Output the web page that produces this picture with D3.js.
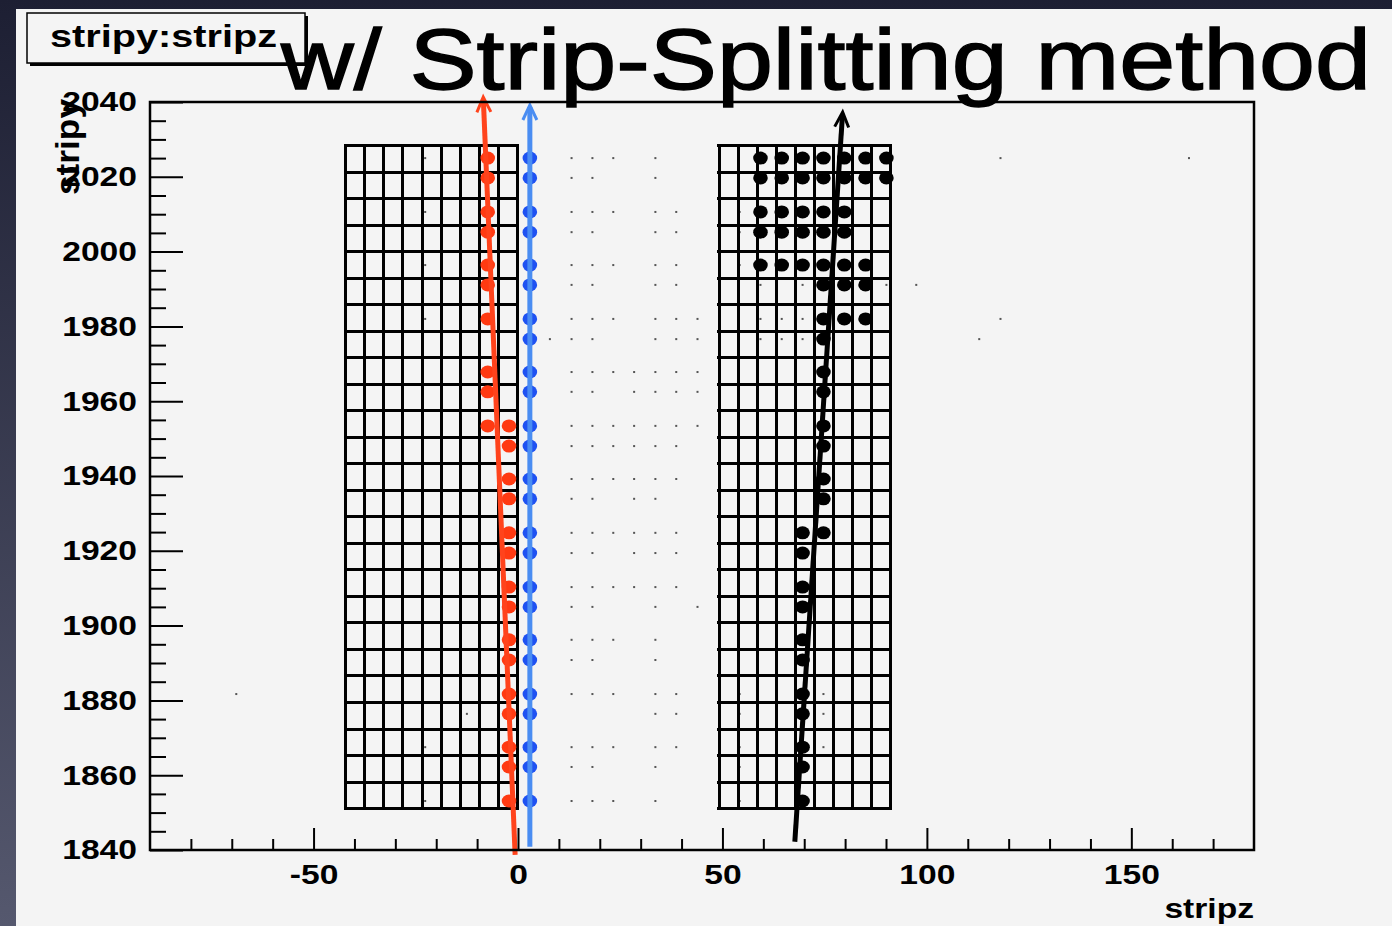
<!DOCTYPE html>
<html>
<head>
<meta charset="utf-8">
<script src="https://cdn.jsdelivr.net/npm/d3@7"></script>
<style>
  html, body { margin: 0; padding: 0; background: #23253a; }
  svg { display: block; }
  text { font-family: "Liberation Sans", Arial, Helvetica, sans-serif; }
</style>
</head>
<body>
<svg width="1392" height="926"></svg>
<script>
// ---- data ----
const xDomain = [-90, 180];
const yDomain = [1840, 2040];
const xMajorTicks = [-50, 0, 50, 100, 150];
const yMajorTicks = [1840, 1860, 1880, 1900, 1920, 1940, 1960, 1980, 2000, 2020, 2040];

// hit rows (stripy) shared by the three tracks
const rowY = [2025.0, 2019.7, 2010.6, 2005.2, 1996.4, 1991.1, 1982.0, 1976.6, 1967.8, 1962.5,
              1953.4, 1948.0, 1939.2, 1933.9, 1924.8, 1919.4, 1910.3, 1905.0, 1896.2, 1890.8,
              1881.7, 1876.4, 1867.5, 1862.2, 1853.1];

// red hits [stripz, stripy]
const redHits = [
  [-7.4, 2025.0], [-7.4, 2019.7], [-7.4, 2010.6], [-7.4, 2005.2], [-7.4, 1996.4], [-7.4, 1991.1],
  [-7.4, 1982.0], [-7.4, 1967.8], [-7.4, 1962.5], [-7.4, 1953.4], [-2.2, 1953.4], [-2.2, 1948.0],
  [-2.2, 1939.2], [-2.2, 1933.9], [-2.2, 1924.8], [-2.2, 1919.4], [-2.2, 1910.3], [-2.2, 1905.0],
  [-2.2, 1896.2], [-2.2, 1890.8], [-2.2, 1881.7], [-2.2, 1876.4], [-2.2, 1867.5], [-2.2, 1862.2],
  [-2.2, 1853.1]
];
// blue hits: one strip column, every row
const blueZ = 2.9;

// black hits
const blackHits = [
  [59.3, 2025.0], [64.5, 2025.0], [69.6, 2025.0], [74.7, 2025.0], [79.8, 2025.0], [85.0, 2025.0], [90.1, 2025.0],
  [59.3, 2019.7], [64.5, 2019.7], [69.6, 2019.7], [74.7, 2019.7], [79.8, 2019.7], [85.0, 2019.7], [90.1, 2019.7],
  [59.3, 2010.6], [64.5, 2010.6], [69.6, 2010.6], [74.7, 2010.6], [79.8, 2010.6],
  [59.3, 2005.2], [64.5, 2005.2], [69.6, 2005.2], [74.7, 2005.2], [79.8, 2005.2],
  [59.3, 1996.4], [64.5, 1996.4], [69.6, 1996.4], [74.7, 1996.4], [79.8, 1996.4], [85.0, 1996.4],
  [74.7, 1991.1], [79.8, 1991.1], [85.0, 1991.1],
  [74.7, 1982.0], [79.8, 1982.0], [85.0, 1982.0],
  [74.7, 1976.6], [74.7, 1967.8], [74.7, 1962.5], [74.7, 1953.4], [74.7, 1948.0], [74.7, 1939.2],
  [74.7, 1933.9], [69.6, 1924.8], [74.7, 1924.8], [69.6, 1919.4], [69.6, 1910.3], [69.6, 1905.0],
  [69.6, 1896.2], [69.6, 1890.8], [69.6, 1881.7], [69.6, 1876.4], [69.6, 1867.5], [69.6, 1862.2],
  [69.6, 1853.1]
];

// faint single-strip entries
const smallHits = [
  [13.1, 2025.0], [18.2, 2025.0], [23.3, 2025.0], [33.6, 2025.0],
  [13.1, 2019.7], [18.2, 2019.7], [33.6, 2019.7],
  [13.1, 2010.6], [18.2, 2010.6], [23.3, 2010.6], [33.6, 2010.6], [38.7, 2010.6],
  [13.1, 2005.2], [18.2, 2005.2], [33.6, 2005.2], [38.7, 2005.2],
  [13.1, 1996.4], [18.2, 1996.4], [23.3, 1996.4], [33.6, 1996.4], [38.7, 1996.4],
  [13.1, 1991.1], [18.2, 1991.1], [33.6, 1991.1], [38.7, 1991.1],
  [13.1, 1982.0], [18.2, 1982.0], [23.3, 1982.0], [33.6, 1982.0], [38.7, 1982.0], [43.9, 1982.0],
  [7.8, 1976.6], [13.1, 1976.6], [18.2, 1976.6], [33.6, 1976.6], [38.7, 1976.6], [43.9, 1976.6],
  [13.1, 1967.8], [18.2, 1967.8], [23.3, 1967.8], [28.4, 1967.8], [33.6, 1967.8], [38.7, 1967.8], [43.9, 1967.8],
  [13.1, 1962.5], [18.2, 1962.5], [28.4, 1962.5], [33.6, 1962.5], [38.7, 1962.5], [43.9, 1962.5],
  [13.1, 1953.4], [18.2, 1953.4], [23.3, 1953.4], [28.4, 1953.4], [33.6, 1953.4], [38.7, 1953.4], [43.9, 1953.4],
  [13.1, 1948.0], [18.2, 1948.0], [23.3, 1948.0], [28.4, 1948.0], [33.6, 1948.0], [38.7, 1948.0],
  [13.1, 1939.2], [18.2, 1939.2], [23.3, 1939.2], [28.4, 1939.2], [33.6, 1939.2], [38.7, 1939.2],
  [13.1, 1933.9], [18.2, 1933.9], [28.4, 1933.9], [33.6, 1933.9],
  [13.1, 1924.8], [18.2, 1924.8], [23.3, 1924.8], [28.4, 1924.8], [33.6, 1924.8], [38.7, 1924.8],
  [13.1, 1919.4], [18.2, 1919.4], [28.4, 1919.4], [33.6, 1919.4], [38.7, 1919.4],
  [13.1, 1910.3], [18.2, 1910.3], [23.3, 1910.3], [28.4, 1910.3], [33.6, 1910.3], [38.7, 1910.3],
  [13.1, 1905.0], [18.2, 1905.0], [33.6, 1905.0], [43.9, 1905.0],
  [13.1, 1896.2], [18.2, 1896.2], [23.3, 1896.2], [33.6, 1896.2],
  [13.1, 1890.8], [18.2, 1890.8], [33.6, 1890.8],
  [13.1, 1881.7], [18.2, 1881.7], [23.3, 1881.7], [33.6, 1881.7], [38.7, 1881.7],
  [33.6, 1876.4], [38.7, 1876.4],
  [13.1, 1867.5], [18.2, 1867.5], [23.3, 1867.5], [33.6, 1867.5], [38.7, 1867.5],
  [13.1, 1862.2], [18.2, 1862.2], [33.6, 1862.2],
  [13.1, 1853.1], [18.2, 1853.1], [23.3, 1853.1], [33.6, 1853.1],
  [-22.7, 2025.0], [-22.7, 2010.6], [-22.7, 1996.4], [-22.7, 1982.0],
  [-12.5, 1876.4], [-22.7, 1867.5], [-22.7, 1853.1], [-68.9, 1881.7],
  [54.2, 2010.6], [54.2, 2005.2], [54.2, 1996.4],
  [59.3, 1991.1], [69.6, 1991.1], [90.1, 1991.1], [97.4, 1991.1],
  [59.3, 1982.0], [64.5, 1982.0], [69.6, 1982.0],
  [59.3, 1976.6], [64.5, 1976.6], [69.6, 1976.6],
  [54.2, 1881.7], [74.7, 1881.7], [54.2, 1876.4], [74.7, 1876.4],
  [54.2, 1867.5], [74.7, 1867.5], [54.2, 1862.2], [54.2, 1853.1],
  [118.0, 2025.0], [164.1, 2025.0], [118.0, 1982.0], [112.8, 1976.6]
];

// fitted tracks [stripz, stripy] from bottom to arrow tip
const redTrack = [[-0.7, 1838.7], [-8.5, 2041.3]];
const blueTrack = [[2.9, 1840.9], [2.9, 2039.2]];
const blackTrack = [[67.7, 1842.2], [79.4, 2037.3]];

// detector strip grids
const gridBoxes = [[-42.3, -0.2], [49.1, 90.9]];
const gridY = [1851.2, 2028.5];
const gridCols = 9;
const gridRows = 25;

// ---- drawing ----
const svg = d3.select("svg");
const width = +svg.attr("width");
const height = +svg.attr("height");

const margin = { left: 150, right: 138, top: 102, bottom: 76 };
const x = d3.scaleLinear().domain(xDomain).range([margin.left, width - margin.right]);
const y = d3.scaleLinear().domain(yDomain).range([height - margin.bottom, margin.top]);

// text in the source is drawn ~1.2x wider than normal
const stretch = (sel, k) => sel.each(function () {
  const w = this.getComputedTextLength();
  d3.select(this).attr("textLength", w * k).attr("lengthAdjust", "spacingAndGlyphs");
});

// slide background + pad
const defs = svg.append("defs");
const bg = defs.append("linearGradient").attr("id", "bg")
  .attr("x1", 0).attr("y1", 0).attr("x2", 0).attr("y2", 1);
bg.append("stop").attr("offset", "0%").attr("stop-color", "#1d1f33");
bg.append("stop").attr("offset", "100%").attr("stop-color", "#55586e");
svg.append("rect").attr("width", width).attr("height", height).attr("fill", "url(#bg)");
svg.append("rect").attr("x", 16).attr("y", 9).attr("width", width - 16).attr("height", height - 9)
  .attr("fill", "#f4f4f4");

const plot = svg.append("g");

// faint hits
plot.append("g").selectAll("rect").data(smallHits).enter().append("rect")
  .attr("x", d => x(d[0]) - 1).attr("y", d => y(d[1]) - 1)
  .attr("width", 2).attr("height", 2).attr("fill", "#555");

// strip grids
gridBoxes.forEach(b => {
  const g = plot.append("g").attr("stroke", "#000").attr("stroke-width", 3).attr("fill", "none")
    .attr("shape-rendering", "crispEdges");
  const zs = d3.range(gridCols + 1).map(i => b[0] + (b[1] - b[0]) * i / gridCols);
  const ys = d3.range(gridRows + 1).map(i => gridY[0] + (gridY[1] - gridY[0]) * i / gridRows);
  g.selectAll("line.v").data(zs).enter().append("line").attr("class", "v")
    .attr("x1", d => Math.round(x(d))).attr("x2", d => Math.round(x(d)))
    .attr("y1", y(gridY[0]) + 1.5).attr("y2", y(gridY[1]) - 1.5);
  g.selectAll("line.h").data(ys).enter().append("line").attr("class", "h")
    .attr("y1", d => Math.round(y(d))).attr("y2", d => Math.round(y(d)))
    .attr("x1", x(b[0]) - 1.5).attr("x2", x(b[1]) + 1.5);
});

// hits
const dot = (data, color) => plot.append("g").selectAll("ellipse").data(data).enter().append("ellipse")
  .attr("cx", d => x(d[0])).attr("cy", d => y(d[1]))
  .attr("rx", 7.3).attr("ry", 6.5).attr("fill", color);

dot(redHits, "#ff3a12");
dot(rowY.map(v => [blueZ, v]), "#1f52f2");
dot(blackHits, "#000");

// tracks with arrow heads
const track = (pts, color) => {
  const p0 = [x(pts[0][0]), y(pts[0][1])];
  const p1 = [x(pts[1][0]), y(pts[1][1])];
  const dx = p1[0] - p0[0], dy = p1[1] - p0[1];
  const len = Math.hypot(dx, dy);
  const ux = dx / len, uy = dy / len;
  const px = -uy, py = ux;
  const bx = p1[0] - 15 * ux, by = p1[1] - 15 * uy;
  plot.append("line")
    .attr("x1", p0[0]).attr("y1", p0[1]).attr("x2", p1[0] - 2 * ux).attr("y2", p1[1] - 2 * uy)
    .attr("stroke", color).attr("stroke-width", 5);
  plot.append("path")
    .attr("d", `M${bx + 7 * px},${by + 7 * py}L${p1[0]},${p1[1]}L${bx - 7 * px},${by - 7 * py}`)
    .attr("fill", "none").attr("stroke", color).attr("stroke-width", 3)
    .attr("stroke-linejoin", "miter");
};
track(redTrack, "#ff431c");
track(blueTrack, "#4a8df2");
track(blackTrack, "#000");

// axes
const fmt = d => String(d);
const xAxis = svg.append("g").attr("transform", `translate(0,${y(yDomain[0])})`)
  .call(d3.axisBottom(x).tickValues(xMajorTicks).tickSize(-22).tickPadding(14).tickFormat(fmt));
svg.append("g").attr("transform", `translate(0,${y(yDomain[0])})`)
  .call(d3.axisBottom(x).tickValues(d3.range(-80, 180, 10).filter(v => v % 50 !== 0)).tickSize(-11).tickFormat(""));
const yAxis = svg.append("g").attr("transform", `translate(${x(xDomain[0])},0)`)
  .call(d3.axisLeft(y).tickValues(yMajorTicks).tickSize(-33).tickPadding(13).tickFormat(fmt));
svg.append("g").attr("transform", `translate(${x(xDomain[0])},0)`)
  .call(d3.axisLeft(y).tickValues(d3.range(1845, 2040, 5).filter(v => v % 20 !== 0)).tickSize(-16).tickFormat(""));

svg.selectAll(".domain").remove();
svg.selectAll(".tick line").attr("stroke", "#000").attr("stroke-width", 2);
[xAxis, yAxis].forEach(a => a.selectAll("text")
  .attr("font-size", 28).attr("font-weight", "bold").attr("fill", "#000")
  .style("font-family", "'Liberation Sans', Arial, sans-serif"));
stretch(xAxis.selectAll("text"), 1.2);
stretch(yAxis.selectAll("text"), 1.2);

// frame
svg.append("rect")
  .attr("x", x(xDomain[0])).attr("y", y(yDomain[1]))
  .attr("width", x(xDomain[1]) - x(xDomain[0])).attr("height", y(yDomain[0]) - y(yDomain[1]))
  .attr("fill", "none").attr("stroke", "#000").attr("stroke-width", 2.5);

// axis titles
const xt = svg.append("text").attr("x", x(xDomain[1])).attr("y", 918)
  .attr("text-anchor", "end").attr("font-size", 28).attr("font-weight", "bold").text("stripz");
stretch(xt, 1.2);
svg.append("text").attr("transform", `translate(79,${y(yDomain[1]) - 3}) rotate(-90)`)
  .attr("text-anchor", "end").attr("font-size", 34).attr("font-weight", "bold")
  .attr("textLength", 96).attr("lengthAdjust", "spacingAndGlyphs").text("stripy");

// stat/title box
svg.append("rect").attr("x", 30).attr("y", 16).attr("width", 278).attr("height", 50).attr("fill", "#000");
svg.append("rect").attr("x", 27).attr("y", 13).attr("width", 278).attr("height", 50)
  .attr("fill", "#f4f4f4").attr("stroke", "#000").attr("stroke-width", 1.5);
svg.append("text").attr("x", 163.5).attr("y", 47).attr("text-anchor", "middle")
  .attr("font-size", 31).attr("font-weight", "bold")
  .attr("textLength", 227).attr("lengthAdjust", "spacingAndGlyphs").text("stripy:stripz");

// slide caption
svg.append("text").attr("x", 281).attr("y", 89).attr("font-size", 85)
  .attr("textLength", 1090).attr("lengthAdjust", "spacingAndGlyphs")
  .attr("fill", "#000").attr("stroke", "#000").attr("stroke-width", 1.4)
  .text("w/ Strip-Splitting method");
</script>
</body>
</html>
